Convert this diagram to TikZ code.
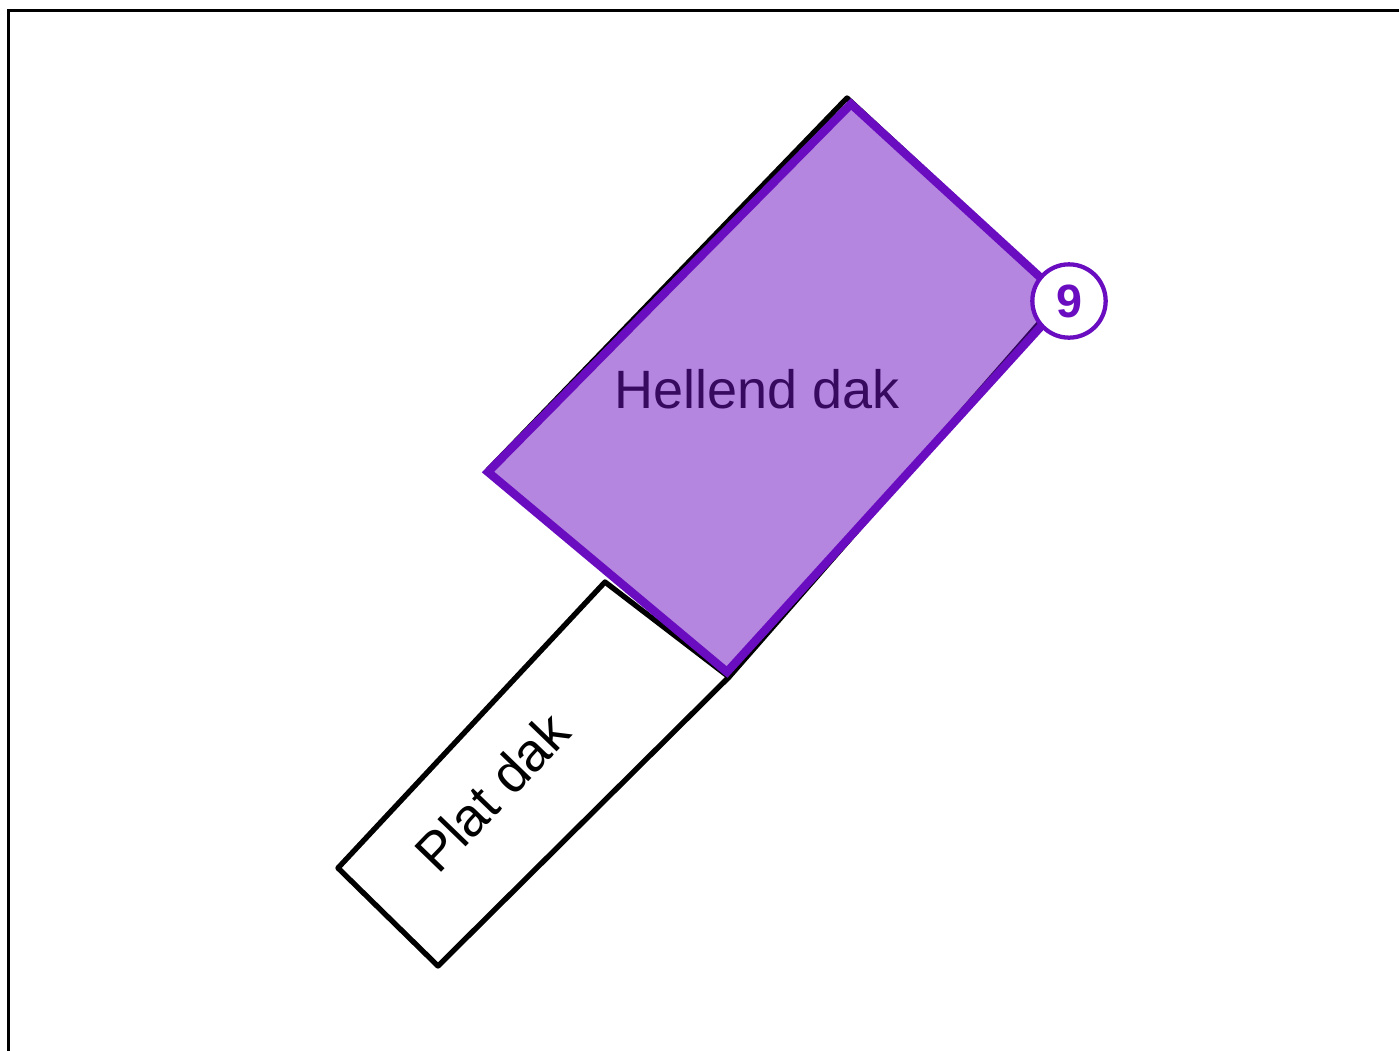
\documentclass[tikz,border=0pt]{standalone}
\usepackage{fontspec}
\setmainfont{Liberation Sans}
\definecolor{roofpurple}{RGB}{106,13,192}
\definecolor{roofdark}{RGB}{55,10,95}
\tikzset{
  outline/.style={draw=black, line width=4pt, line join=round, line cap=round},
  roof/.style={draw=roofpurple, line width=6.3pt, fill=roofpurple, fill opacity=0.5, draw opacity=1, line join=miter},
  badge/.style={circle, draw=roofpurple, line width=3.2pt, fill=white, minimum size=55pt, inner sep=0pt, text=roofpurple, font=\fontsize{35}{38}\selectfont\bfseries},
  lbl/.style={font=\fontsize{40.5}{44}\selectfont, inner sep=0pt}
}
\begin{document}
\begin{tikzpicture}[x=0.75pt, y=-0.75pt]
\useasboundingbox (0,0) rectangle (1399,1050);
% frame
\draw[line width=1.8pt] (8.5,1200) -- (8.5,10.5) -- (1500,10.5);
% flat roof
\draw[outline] (605,582) -- (729,677) -- (438,966) -- (338,868) -- cycle;
% building outline under the sloped roof
\draw[outline] (488,470) -- (847,98) -- (1062,297) -- (729,677);
% sloped roof
\draw[roof] (851,104) -- (1065,300) -- (727,672) -- (488,472) -- cycle;
\node[lbl, text=roofdark] (hellend) at (757,389) {Hellend dak};
\node[lbl, rotate=46] (plat) at (492,792) {Plat dak};
\node[badge] (nine) at (1069,301) {9};
\end{tikzpicture}
\end{document}
